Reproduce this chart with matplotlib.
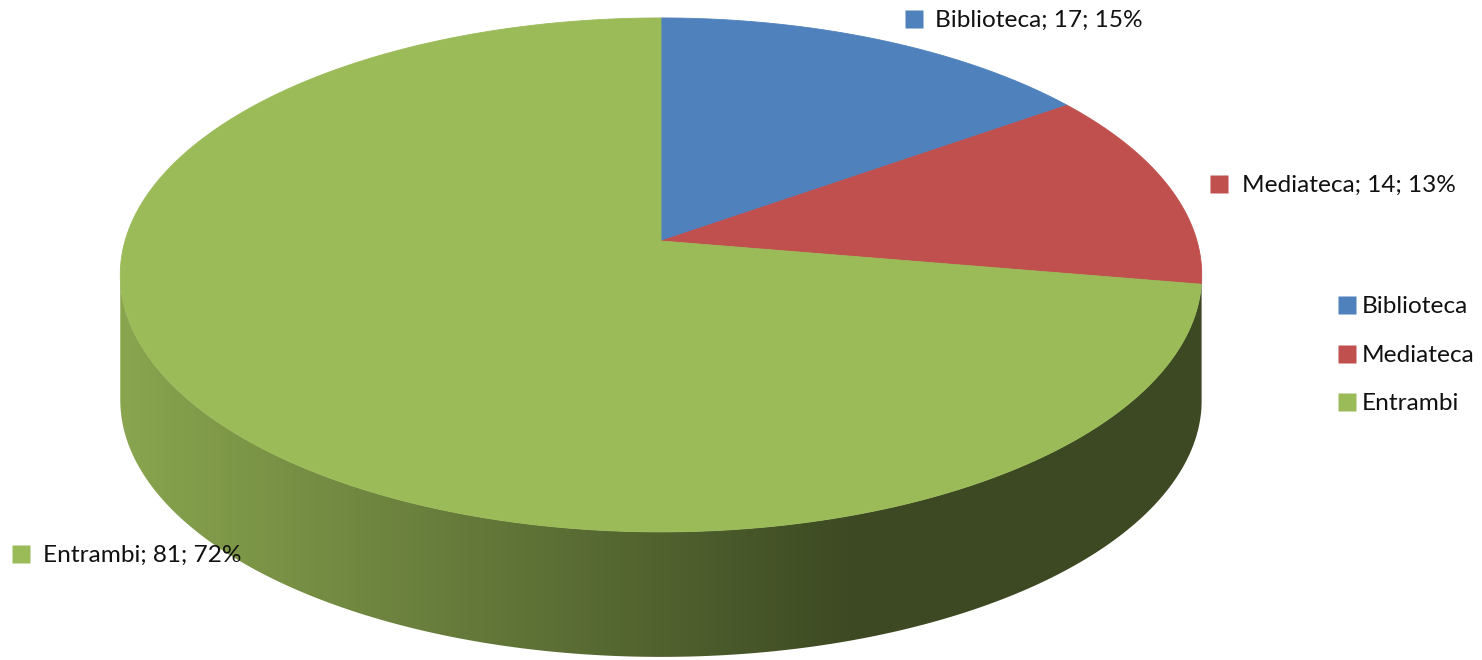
import numpy as np
import matplotlib.pyplot as plt
from matplotlib.colors import to_rgb
from matplotlib.patches import Polygon

labels = ['Biblioteca', 'Mediateca', 'Entrambi']
values = [17, 14, 81]
colors = ['#4F81BD', '#C0504D', '#9BBB59']

plt.rcParams['font.family'] = ['Lato', 'DejaVu Sans']

fig = plt.figure(figsize=(14.82, 6.6), dpi=100)
ax = fig.add_axes([0, 0, 1, 1])

# 3d pie geometry (pixels), with a little perspective
cx, cy = 661, 241
rx, ry = 536, 252.5
b = 0.132
depth = 125


def proj(th, drop=0):
    t = np.sin(th)
    x = cx + rx * np.cos(th) / (1 + b * t)
    y = cy - ry * t / (1 + b * t) + drop
    return x, y


total = sum(values)
angles = 90 - 360 * np.cumsum([0] + values) / total
hi = -np.degrees(np.arcsin(b))
lo = -180 - hi

# side walls, shaded from left to right
xs = np.arange(0, 1482)
shade = np.interp(xs, [120, 850], [0.885, 0.395])
for i in range(len(values)):
    s0 = min(angles[i], hi)
    s1 = max(angles[i + 1], lo)
    if s0 <= s1:
        continue
    th = np.radians(np.linspace(s0, s1, 200))
    xt, yt = proj(th)
    xb, yb = proj(th, depth)
    verts = np.column_stack([np.concatenate([xt, xb[::-1]]),
                             np.concatenate([yt, yb[::-1]])])
    patch = Polygon(verts, closed=True, facecolor='none', edgecolor='none')
    ax.add_patch(patch)
    img = np.array(to_rgb(colors[i]))[None, None, :] * shade[None, :, None]
    im = ax.imshow(img, extent=(0, 1482, 660, 0), aspect='auto',
                   interpolation='bilinear')
    im.set_clip_path(patch)

# top face
for i in range(len(values)):
    th = np.radians(np.linspace(angles[i], angles[i + 1], 300))
    xt, yt = proj(th)
    verts = np.column_stack([np.concatenate([[cx], xt]),
                             np.concatenate([[cy], yt])])
    ax.add_patch(Polygon(verts, closed=True, facecolor=colors[i],
                         edgecolor=colors[i], lw=0.6))

# data labels
pcts = [int(v * 100 / total + 0.5) for v in values]
label_pos = [(914, 19, 935, 27), (1219, 184, 1242, 192), (21, 554, 43, 562)]
for i, (mx, my, tx, ty) in enumerate(label_pos):
    ax.plot(mx, my, marker='s', ms=13.5, color=colors[i], mec='none')
    ax.text(tx, ty, f'{labels[i]}; {values[i]}; {pcts[i]}%', fontsize=17.6,
            va='baseline', ha='left', color='#111111')

# legend
leg_y = [313, 362, 410]
for i, y in enumerate(leg_y):
    ax.plot(1347, y - 8, marker='s', ms=12.5, color=colors[i], mec='none')
    ax.text(1362, y, labels[i], fontsize=17.6, va='baseline', ha='left',
            color='#111111')

ax.set_xlim(0, 1482)
ax.set_ylim(660, 0)
ax.axis('off')
fig.savefig('out.png', dpi=100)
